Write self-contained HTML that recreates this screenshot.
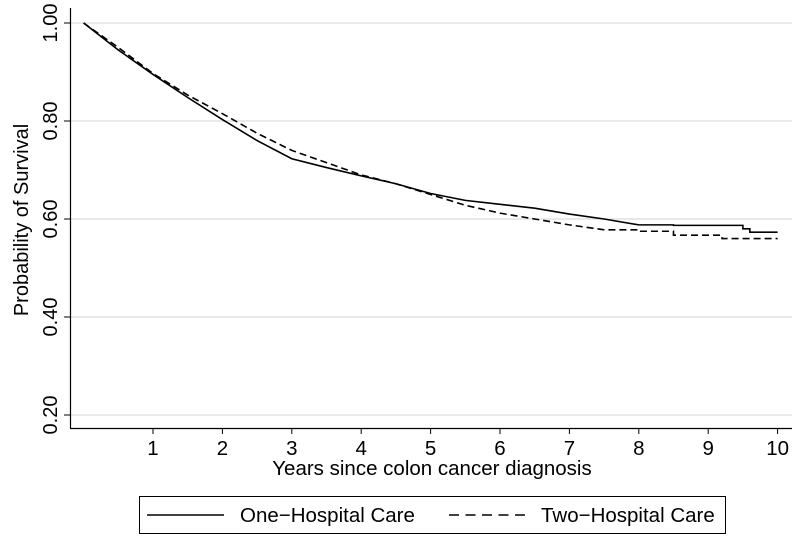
<!DOCTYPE html>
<html><head><meta charset="utf-8"><style>
body{margin:0;background:#fff;}
svg{font-family:"Liberation Sans",Arial,sans-serif;}
</style></head><body>
<svg width="800" height="539" viewBox="0 0 800 539">
<g id="grid"></g>
<g id="yax"></g>
<g id="xax"></g>
<g id="series"></g>
<text x="28" y="220" transform="rotate(-90 28 220)" text-anchor="middle" font-size="20" fill="#000">Probability of Survival</text>
<text x="432" y="475" text-anchor="middle" font-size="20.5" fill="#000">Years since colon cancer diagnosis</text>
<g>
<rect x="139.5" y="496.5" width="586" height="37" fill="#fff" stroke="#000" stroke-width="1"/>
<g>
<line x1="147" y1="515" x2="224" y2="515" stroke="#000" stroke-width="1.5"/>
<text x="240" y="522" font-size="20.5">One−Hospital Care</text></g>
<g>
<line x1="449" y1="515" x2="526" y2="515" stroke="#000" stroke-width="1.5" stroke-dasharray="10,6.5"/>
<text x="541" y="522" font-size="20.5">Two−Hospital Care</text></g>
</g>
</svg>
<script>
const yTicks=[0.2,0.4,0.6,0.8,1.0];
const yTickLabels=["0.20","0.40","0.60","0.80","1.00"];
const xTicks=[1,2,3,4,5,6,7,8,9,10];
const oneYears=[0,0.5,1,1.5,2,2.5,3,3.5,4,4.5,5,5.5,6,6.5,7,7.5,8,8.5,9,9.5,9.6,10];
const oneSurv=[1,0.945,0.895,0.848,0.803,0.76,0.723,0.705,0.688,0.672,0.652,0.638,0.63,0.622,0.61,0.6,0.588,0.587,0.587,0.58,0.573,0.573];
const twoYears=[0,0.5,1,1.5,2,2.5,3,3.5,4,4.5,5,5.5,6,6.5,7,7.5,8,8.5,9,9.2,10];
const twoSurv=[1,0.95,0.897,0.853,0.815,0.775,0.74,0.715,0.69,0.672,0.65,0.628,0.612,0.6,0.588,0.578,0.575,0.567,0.567,0.56,0.56];
const NS="http://www.w3.org/2000/svg";
const X=v=>83.6+v*69.4;
const Y=v=>415-(v-0.2)*490;
function mk(t,a,p){const e=document.createElementNS(NS,t);for(const k in a)e.setAttribute(k,a[k]);p.appendChild(e);return e;}
const grid=document.getElementById('grid'),yax=document.getElementById('yax'),xax=document.getElementById('xax'),ser=document.getElementById('series');
yTicks.forEach((v,i)=>{
 const g=mk('line',{x1:70,x2:792,y1:Y(v),y2:Y(v),stroke:'#dcdcdc','stroke-width':1.2},grid);
 
 
 mk('line',{x1:64,x2:70,y1:Y(v),y2:Y(v),stroke:'#000'},yax);
 const t=mk('text',{x:0,y:0,transform:`translate(57 ${Y(v)}) rotate(-90)`,'text-anchor':'middle','font-size':20},yax);
 t.textContent=yTickLabels[i];
 
 
});
mk('line',{x1:70.5,x2:70.5,y1:8,y2:428,stroke:'#000','stroke-width':1.2},yax);
mk('line',{x1:70,x2:792,y1:428.5,y2:428.5,stroke:'#000','stroke-width':1.2},xax);
xTicks.forEach(v=>{
 mk('line',{x1:X(v),x2:X(v),y1:428,y2:434,stroke:'#000'},xax);
 const t=mk('text',{x:X(v),y:455,'text-anchor':'middle','font-size':20.5},xax);
 t.textContent=v;
 
 
});
function smooth(xs,ys){let d=`M${X(xs[0])},${Y(ys[0])}`;for(let i=1;i<xs.length;i++){if(xs[i]>=8&&Math.abs(ys[i]-ys[i-1])<0.01){d+=`L${X(xs[i])},${Y(ys[i-1])}L${X(xs[i])},${Y(ys[i])}`;}else d+=`L${X(xs[i])},${Y(ys[i])}`;}return d;}
const p1=mk('path',{d:smooth(oneYears,oneSurv),fill:'none',stroke:'#000','stroke-width':1.6},ser);


const p2=mk('path',{d:smooth(twoYears,twoSurv),fill:'none',stroke:'#000','stroke-width':1.6,'stroke-dasharray':'7,4'},ser);


</script>
</body></html>
